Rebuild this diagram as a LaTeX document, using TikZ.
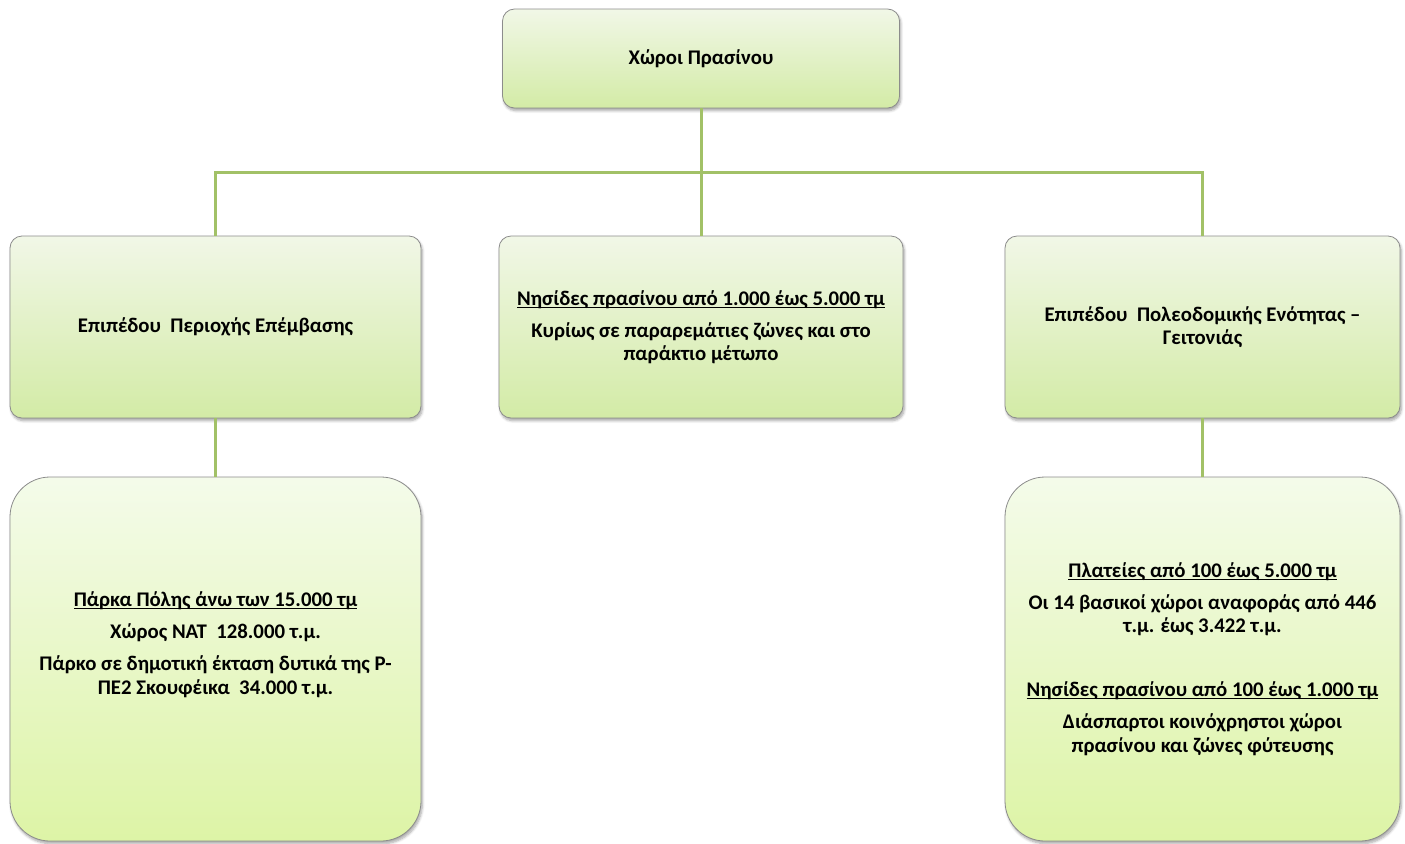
\documentclass[tikz,border=0pt]{standalone}
\usepackage{fontspec}
\setmainfont{Carlito}
\usepackage{tikz}
\usetikzlibrary{shadows.blur}

\definecolor{linegreen}{HTML}{A2C167}
\definecolor{boxtop}{HTML}{F1F7E7}
\definecolor{boxbot}{HTML}{D3EBA6}
\definecolor{leaftop}{HTML}{F4FBEA}
\definecolor{leafbot}{HTML}{DDF4A6}
\newcommand{\px}{0.75pt}
\newcommand{\grul}[1]{\underline{\smash{#1}}\vphantom{#1}}

\tikzset{
  box/.style={rectangle, rounded corners=12*\px, draw=black!45, line width=0.6pt,
    top color=boxtop, bottom color=boxbot, align=center, inner sep=0pt,
    font=\fontsize{15.6}{17.4}\selectfont\bfseries,
    blur shadow={shadow xshift=1pt, shadow yshift=-2pt, shadow blur steps=6, shadow opacity=35}},
  leaf/.style={box, rounded corners=40*\px, top color=leaftop, bottom color=leafbot},
  conn/.style={draw=linegreen, line width=3*\px}
}

\begin{document}
\begin{tikzpicture}[x=\px, y=-\px]
			\useasboundingbox (0,0) rectangle (1405,843);
			% Nodes
			\node[box, minimum width=397*\px, minimum height=99*\px] (root) at (701,58.5) {Χώροι Πρασίνου};
			\node[box, minimum width=411*\px, minimum height=182*\px] (area) at (215.5,327) {Επιπέδου\ \ Περιοχής Επέμβασης};
			\node[box, minimum width=404*\px, minimum height=182*\px] (isles) at (701,327)
				{\grul{Νησίδες πρασίνου από 1.000 έως 5.000 τμ}\\[6.6pt]
				 Κυρίως σε παραρεμάτιες ζώνες και στο\\ παράκτιο μέτωπο};
			\node[box, minimum width=395*\px, minimum height=182*\px] (hood) at (1202.5,327)
				{Επιπέδου\ \ Πολεοδομικής Ενότητας –\\ Γειτονιάς};
			\node[leaf, minimum width=411*\px, minimum height=364*\px] (parks) at (215.5,659)
				{\grul{Πάρκα Πόλης άνω των 15.000 τμ}\\[6.6pt]
				 Χώρος ΝΑΤ\ \ 128.000 τ.μ.\\[6.6pt]
				 Πάρκο σε δημοτική έκταση δυτικά της Ρ-\\ ΠΕ2 Σκουφέικα\ \ 34.000 τ.μ.\\[6.6pt]
				 \mbox{}};
			\node[leaf, minimum width=395*\px, minimum height=364*\px] (squares) at (1202.5,659)
				{\grul{Πλατείες από 100 έως 5.000 τμ}\\[6.6pt]
				 Οι 14 βασικοί χώροι αναφοράς από 446\\ τ.μ. έως 3.422 τ.μ.\\[6.6pt]
				 \mbox{}\\[6.6pt]
				 \grul{Νησίδες πρασίνου από 100 έως 1.000 τμ}\\[6.6pt]
				 Διάσπαρτοι κοινόχρηστοι χώροι\\ πρασίνου και ζώνες φύτευσης};
			\coordinate (bus) at (701,172);
			% Connectors
			\draw[conn] (root.south) -- (bus) -| (area.north);
			\draw[conn] (bus) -| (hood.north);
			\draw[conn] (bus) -- (isles.north);
			\draw[conn] (area.south) -- (parks.north);
			\draw[conn] (hood.south) -- (squares.north);
		\end{tikzpicture}
\end{document}
